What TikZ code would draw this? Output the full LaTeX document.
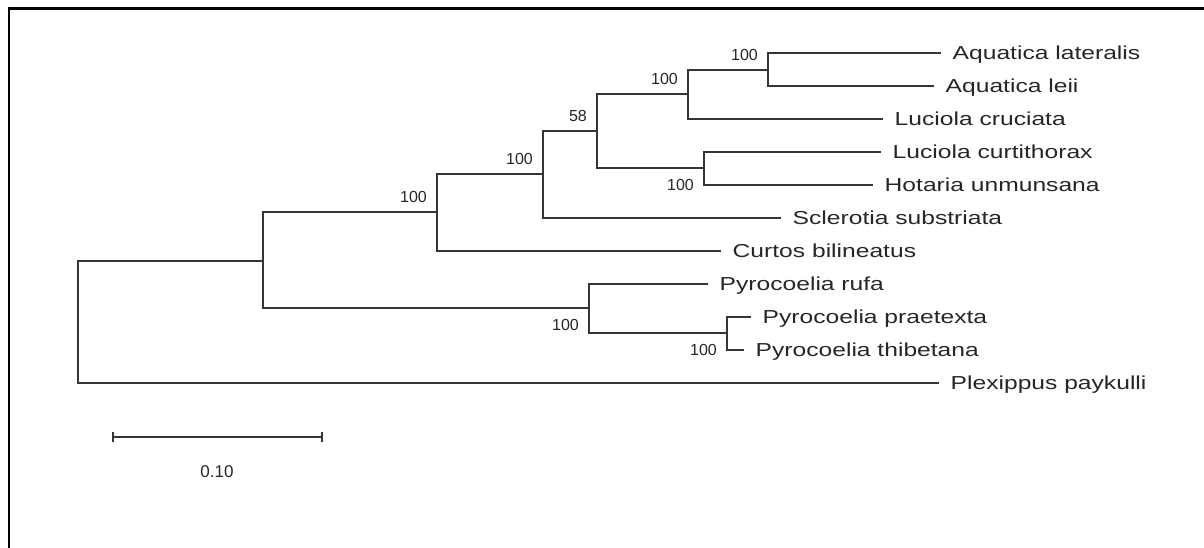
\documentclass[tikz,border=0pt]{standalone}
\usepackage{fontspec}
\setmainfont{Liberation Sans}
\definecolor{treeline}{HTML}{363636}
\definecolor{txt}{HTML}{262626}
\begin{document}
\begin{tikzpicture}[x=1pt,y=-1pt,
  branch/.style={draw=treeline,line width=1.6pt,line cap=rect},
  leaf/.style={anchor=base west,inner sep=0pt,text=txt,font=\fontsize{18.8}{20}\selectfont,xshift=12.5pt,yshift=-6.7pt},
  bootup/.style={anchor=east,inner sep=0pt,text=txt,font=\fontsize{16}{18}\selectfont,xshift=-10pt,yshift=15pt},
  bootdown/.style={anchor=east,inner sep=0pt,text=txt,font=\fontsize{16}{18}\selectfont,xshift=-10pt,yshift=-17pt},
  frame/.style={draw=black,line width=2.6pt}]
\useasboundingbox (0,0) rectangle (1204,548);
\newcommand{\wide}[1]{\scalebox{1.31}[1]{#1}}
% frame (top and left only)
\coordinate (f1) at (9,548);
\coordinate (f2) at (9,8.5);
\coordinate (f3) at (1204,8.5);
\draw[frame] (f1) -- (f2) -- (f3);
% tips
\coordinate (tAl) at (940,53);
\coordinate (tAle) at (933,86);
\coordinate (tLcr) at (882,119);
\coordinate (tLcu) at (880,152);
\coordinate (tHot) at (872,185);
\coordinate (tScl) at (780,218);
\coordinate (tCur) at (720,251);
\coordinate (tPr) at (707,284);
\coordinate (tPp) at (750,317);
\coordinate (tPt) at (743,350);
\coordinate (tPl) at (938,383);
% internal nodes
\coordinate (n6) at (768,70);
\coordinate (n5) at (688,94);
\coordinate (n7) at (704,168);
\coordinate (n4) at (597,131);
\coordinate (n3) at (543,174);
\coordinate (n2) at (437,212);
\coordinate (n9) at (727,333);
\coordinate (n8) at (589,308);
\coordinate (n1) at (263,261);
\coordinate (r) at (78,322);
% branches
\draw[branch] (n6) |- (tAl);
\draw[branch] (n6) |- (tAle);
\draw[branch] (n5) |- (n6);
\draw[branch] (n5) |- (tLcr);
\draw[branch] (n7) |- (tLcu);
\draw[branch] (n7) |- (tHot);
\draw[branch] (n4) |- (n5);
\draw[branch] (n4) |- (n7);
\draw[branch] (n3) |- (n4);
\draw[branch] (n3) |- (tScl);
\draw[branch] (n2) |- (n3);
\draw[branch] (n2) |- (tCur);
\draw[branch] (n9) |- (tPp);
\draw[branch] (n9) |- (tPt);
\draw[branch] (n8) |- (tPr);
\draw[branch] (n8) |- (n9);
\draw[branch] (n1) |- (n2);
\draw[branch] (n1) |- (n8);
\draw[branch] (r) |- (n1);
\draw[branch] (r) |- (tPl);
% leaf labels
\node[leaf] (lAl) at (tAl) {\wide{Aquatica lateralis}};
\node[leaf] (lAle) at (tAle) {\wide{Aquatica leii}};
\node[leaf] (lLcr) at (tLcr) {\wide{Luciola cruciata}};
\node[leaf] (lLcu) at (tLcu) {\wide{Luciola curtithorax}};
\node[leaf] (lHot) at (tHot) {\wide{Hotaria unmunsana}};
\node[leaf] (lScl) at (tScl) {\wide{Sclerotia substriata}};
\node[leaf] (lCur) at (tCur) {\wide{Curtos bilineatus}};
\node[leaf] (lPr) at (tPr) {\wide{Pyrocoelia rufa}};
\node[leaf] (lPp) at (tPp) {\wide{Pyrocoelia praetexta}};
\node[leaf] (lPt) at (tPt) {\wide{Pyrocoelia thibetana}};
\node[leaf] (lPl) at (tPl) {\wide{Plexippus paykulli}};
% bootstrap values
\node[bootup] (b6) at (n6) {100};
\node[bootup] (b5) at (n5) {100};
\node[bootup] (b4) at (n4) {58};
\node[bootup] (b3) at (n3) {100};
\node[bootup] (b2) at (n2) {100};
\node[bootdown] (b7) at (n7) {100};
\node[bootdown] (b8) at (n8) {100};
\node[bootdown] (b9) at (n9) {100};
% scale bar
\coordinate (s1) at (113,437);
\coordinate (s2) at (322,437);
\draw[branch,line cap=butt] (s1) -- (s2);
\draw[branch,line width=1.3pt,line cap=butt] ([yshift=5pt]s1) -- ([yshift=-5pt]s1);
\draw[branch,line width=1.3pt,line cap=butt] ([yshift=5pt]s2) -- ([yshift=-5pt]s2);
\node[text=txt,font=\fontsize{17}{19}\selectfont,inner sep=0pt] (sl) at (217,472) {0.10};
\end{tikzpicture}
\end{document}
